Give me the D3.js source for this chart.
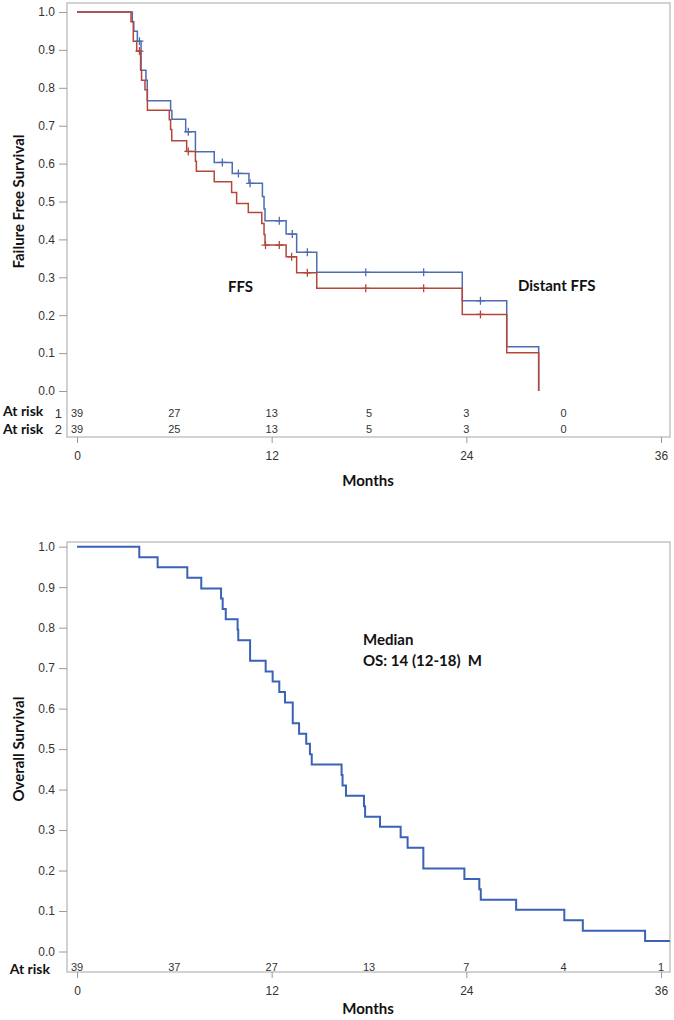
<!DOCTYPE html>
<html>
<head>
<meta charset="utf-8">
<script src="https://cdn.jsdelivr.net/npm/d3@7"></script>
<style>
  body { margin: 0; background: #fff; }
  .tick text { font-family: "Liberation Sans", Arial, sans-serif; font-size: 12px; fill: #333; }
  .tick line { stroke: #9a9a9a; }
  .risk { font-family: "Liberation Sans", Arial, sans-serif; font-size: 11px; fill: #333; }
  .lab { font-family: Lato, "Open Sans", sans-serif; font-weight: 700; fill: #111; }
</style>
</head>
<body>
<div id="wrapper"></div>
<script>
// ---- data ----
// FFS curve (blue): step times in months and survival after each step
const ffsTimes = [0, 3.41, 3.5, 3.72, 3.95, 4.25, 4.33, 5.77, 5.85, 6.7, 7.3, 8.46, 9.57, 10.6, 11.43, 11.53, 11.59, 12.89, 13.54, 14.78, 23.75, 26.49, 28.46]
const ffsSurv = [1, 0.974, 0.949, 0.923, 0.846, 0.82, 0.766, 0.74, 0.717, 0.684, 0.631, 0.603, 0.574, 0.548, 0.513, 0.48, 0.449, 0.414, 0.366, 0.313, 0.238, 0.117, 0]
const ffsCensor = [3.85, 6.86, 8.96, 9.95, 10.67, 12.47, 13.27, 14.2, 17.8, 21.37, 24.87]

// Distant FFS curve (red)
const dfsTimes = [0, 3.33, 3.47, 3.68, 3.92, 3.98, 4.19, 4.34, 5.69, 5.77, 5.84, 6.76, 7.3, 7.36, 8.46, 9.53, 9.84, 10.56, 11.39, 11.53, 11.59, 12.89, 13.54, 14.78, 23.75, 26.49, 28.46]
const dfsSurv = [1, 0.974, 0.923, 0.897, 0.846, 0.82, 0.795, 0.741, 0.716, 0.69, 0.66, 0.632, 0.606, 0.58, 0.552, 0.524, 0.495, 0.471, 0.442, 0.413, 0.385, 0.354, 0.312, 0.271, 0.202, 0.101, 0]
const dfsCensor = [3.85, 6.86, 11.62, 12.47, 13.23, 14.2, 17.8, 21.37, 24.87]

// at-risk tables
const riskMonths1 = [0, 6, 12, 18, 24, 30]
const riskRow1 = [39, 27, 13, 5, 3, 0]
const riskRow2 = [39, 25, 13, 5, 3, 0]

// overall survival
const osTimes = [0, 3.84, 4.97, 6.8, 7.66, 8.88, 8.98, 9.17, 9.9, 9.94, 10.67, 11.63, 12.06, 12.47, 12.82, 13.3, 13.69, 14.13, 14.36, 14.47, 16.31, 16.37, 16.58, 17.69, 17.76, 18.68, 19.95, 20.38, 21.35, 23.88, 24.8, 24.89, 27.07, 30.04, 31.18, 35.02]
const osSurv = [1, 0.974, 0.949, 0.923, 0.897, 0.872, 0.846, 0.821, 0.795, 0.769, 0.718, 0.692, 0.667, 0.641, 0.615, 0.564, 0.538, 0.513, 0.487, 0.462, 0.436, 0.41, 0.385, 0.359, 0.333, 0.308, 0.282, 0.256, 0.205, 0.179, 0.154, 0.128, 0.103, 0.077, 0.051, 0.026]
const osEnd = 36.55
const riskMonthsOS = [0, 6, 12, 18, 24, 30, 36]
const riskOS = [39, 37, 27, 13, 7, 4, 1]

const xTicks = [0, 12, 24, 36]
const yTicks = [0, 0.1, 0.2, 0.3, 0.4, 0.5, 0.6, 0.7, 0.8, 0.9, 1.0]

// ---- drawing ----
const width = 674
const height = 1020
const colors = { blue: "#4e6cb3", red: "#b4473a", os: "#3a62b5" }

const svg = d3.select("#wrapper").append("svg")
    .attr("width", width)
    .attr("height", height)

const x = d3.scaleLinear().domain([0, 36]).range([77, 661])

function drawPanel(opts) {
  const y = d3.scaleLinear().domain([0, 1]).range(opts.yRange)
  const g = svg.append("g")

  // frame
  g.append("rect")
      .attr("x", opts.frame.left)
      .attr("y", opts.frame.top)
      .attr("width", opts.frame.right - opts.frame.left)
      .attr("height", opts.frame.bottom - opts.frame.top)
      .attr("fill", "none")
      .attr("stroke", "#c4c4c4")
      .attr("stroke-width", 1.5)

  // y axis
  const yAxis = g.append("g")
      .attr("transform", `translate(${opts.frame.left},0)`)
      .call(d3.axisLeft(y).tickValues(yTicks).tickFormat(d3.format(".1f")).tickSize(8).tickPadding(4))
  yAxis.select(".domain").remove()

  // x axis
  const xAxis = g.append("g")
      .attr("transform", `translate(0,${opts.frame.bottom})`)
      .call(d3.axisBottom(x).tickValues(xTicks).tickSize(6).tickPadding(8))
  xAxis.select(".domain").remove()

  g.append("text")
      .attr("class", "lab")
      .attr("x", 368)
      .attr("y", opts.monthsY)
      .attr("text-anchor", "middle")
      .style("font-size", "15px")
      .text("Months")

  g.append("text")
      .attr("class", "lab")
      .attr("transform", `translate(24,${(opts.yRange[0] + opts.yRange[1]) / 2}) rotate(-90)`)
      .attr("text-anchor", "middle")
      .style("font-size", "15px")
      .text(opts.yTitle)

  return { g, y }
}

function drawCurve(g, y, times, surv, endTime, color, width) {
  const pts = times.map((t, i) => [t, surv[i]])
  pts.push([endTime, surv[surv.length - 1]])
  const line = d3.line()
      .x(d => x(d[0]))
      .y(d => y(d[1]))
      .curve(d3.curveStepAfter)
  g.append("path")
      .attr("d", line(pts))
      .attr("fill", "none")
      .attr("stroke", color)
      .attr("stroke-width", width)
}

function survAt(times, surv, t) {
  const i = d3.bisectRight(times, t) - 1
  return surv[Math.max(0, i)]
}

function drawCensors(g, y, times, surv, censors, color) {
  g.selectAll(null)
    .data(censors)
    .join("path")
      .attr("d", t => {
        const cx = x(t), cy = y(survAt(times, surv, t))
        return `M${cx - 4},${cy}H${cx + 4}M${cx},${cy - 4}V${cy + 4}`
      })
      .attr("stroke", color)
      .attr("stroke-width", 1.3)
}

function drawRisk(g, months, counts, yPos) {
  g.selectAll(null)
    .data(counts)
    .join("text")
      .attr("class", "risk")
      .attr("x", (d, i) => x(months[i]))
      .attr("y", yPos)
      .attr("dy", "0.35em")
      .attr("text-anchor", "middle")
      .text(d => d)
}

// top panel: FFS / Distant FFS
const topPanel = drawPanel({
  frame: { left: 67, right: 670, top: 3, bottom: 437 },
  yRange: [391, 12],
  monthsY: 486,
  yTitle: "Failure Free Survival"
})
drawCurve(topPanel.g, topPanel.y, ffsTimes, ffsSurv, ffsTimes[ffsTimes.length - 1], colors.blue, 1.5)
drawCurve(topPanel.g, topPanel.y, dfsTimes, dfsSurv, dfsTimes[dfsTimes.length - 1], colors.red, 1.5)
drawCensors(topPanel.g, topPanel.y, ffsTimes, ffsSurv, ffsCensor, colors.blue)
drawCensors(topPanel.g, topPanel.y, dfsTimes, dfsSurv, dfsCensor, colors.red)

drawRisk(topPanel.g, riskMonths1, riskRow1, 413)
drawRisk(topPanel.g, riskMonths1, riskRow2, 429)
topPanel.g.append("text").attr("class", "lab").attr("x", 3).attr("y", 411).attr("dy", "0.35em")
    .style("font-size", "14px").text("At risk")
topPanel.g.append("text").attr("class", "lab").attr("x", 3).attr("y", 429).attr("dy", "0.35em")
    .style("font-size", "14px").text("At risk")
topPanel.g.append("text").attr("class", "risk").attr("x", 62).attr("y", 413).attr("dy", "0.35em")
    .attr("text-anchor", "end").style("font-size", "13px").text("1")
topPanel.g.append("text").attr("class", "risk").attr("x", 62).attr("y", 429).attr("dy", "0.35em")
    .attr("text-anchor", "end").style("font-size", "13px").text("2")

topPanel.g.append("text").attr("class", "lab").attr("x", 228).attr("y", 287).attr("dy", "0.35em")
    .style("font-size", "15px").text("FFS")
topPanel.g.append("text").attr("class", "lab").attr("x", 518).attr("y", 286).attr("dy", "0.35em")
    .style("font-size", "15px").text("Distant FFS")

// bottom panel: overall survival
const bottomPanel = drawPanel({
  frame: { left: 67, right: 670, top: 542, bottom: 972 },
  yRange: [951.5, 546.7],
  monthsY: 1014,
  yTitle: "Overall Survival"
})
drawCurve(bottomPanel.g, bottomPanel.y, osTimes, osSurv, osEnd, colors.os, 2)
drawRisk(bottomPanel.g, riskMonthsOS, riskOS, 967)
bottomPanel.g.append("text").attr("class", "lab").attr("x", 50).attr("y", 969).attr("dy", "0.35em")
    .attr("text-anchor", "end").style("font-size", "14px").text("At risk")

bottomPanel.g.append("text").attr("class", "lab").attr("x", 363).attr("y", 640).attr("dy", "0.35em")
    .style("font-size", "15px").text("Median")
bottomPanel.g.append("text").attr("class", "lab").attr("x", 363).attr("y", 661).attr("dy", "0.35em")
    .style("font-size", "15px").attr("xml:space", "preserve").text("OS: 14 (12-18)  M")
</script>
</body>
</html>
